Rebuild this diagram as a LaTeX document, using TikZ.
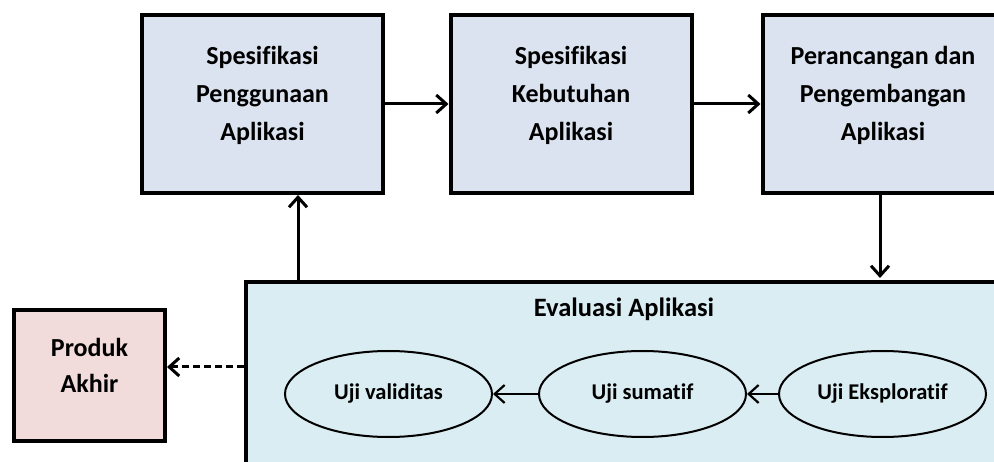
\documentclass[tikz,border=0pt]{standalone}
\usepackage{fontspec}
\setmainfont{Carlito}[Ligatures={NoCommon}]
\usetikzlibrary{arrows.meta,shapes.geometric}
\definecolor{boxfill}{HTML}{DCE3F0}
\definecolor{evalfill}{HTML}{DAEDF3}
\definecolor{prodfill}{HTML}{F2DCDB}
\tikzset{
  stagebox/.style={draw=black, line width=4pt, fill=boxfill, minimum width=241pt, minimum height=178pt, inner sep=0pt},
  prodbox/.style={draw=black, line width=4pt, fill=prodfill, minimum width=151pt, minimum height=131pt, inner sep=0pt},
  evalbox/.style={draw=black, line width=4pt, fill=evalfill, minimum width=756pt, minimum height=220pt, inner sep=0pt},
  testell/.style={draw=black, ellipse, line width=2pt, fill=evalfill, minimum width=207pt, minimum height=86pt, inner sep=0pt, font=\bfseries\fontsize{22.5}{26}\selectfont},
  boxtext/.style={align=center, font=\bfseries\fontsize{26}{38}\selectfont, inner sep=0pt},
  prodtext/.style={align=center, font=\bfseries\fontsize{26}{36}\selectfont, inner sep=0pt},
  flowarrow/.style={line width=3pt, -{Straight Barb[length=10pt,width=18pt,line width=3pt]}},
  smallarrow/.style={line width=2.2pt, -{Straight Barb[length=10pt,width=18pt,line width=2.2pt]}},
  dasharrow/.style={line width=3pt, dash pattern=on 7pt off 4pt, -{Straight Barb[length=10pt,width=18pt,line width=3pt]}},
}
\begin{document}
\begin{tikzpicture}[x=1pt,y=-1pt]
\clip (0,0) rectangle (994,462);
\fill[white] (0,0) rectangle (994,462);
% top boxes
\node[stagebox] (b1) at (262.5,104) {};
\node[stagebox] (b2) at (571,104) {};
\node[stagebox] (b3) at (883,104) {};
\node[boxtext] (t1) at ([yshift=9pt]b1.center) {Spesifikasi\\Penggunaan\\Aplikasi};
\node[boxtext] (t2) at ([yshift=9pt]b2.center) {Spesifikasi\\Kebutuhan\\Aplikasi};
\node[boxtext] (t3) at ([yshift=9pt]b3.center) {Perancangan dan\\Pengembangan\\Aplikasi};
% evaluation box
\node[evalbox] (eval) at (624,392) {};
\node[font=\bfseries\fontsize{26.5}{30}\selectfont, inner sep=0pt] (evt) at (624,309) {Evaluasi Aplikasi};
% product box
\node[prodbox] (prod) at (89.5,375.5) {};
\node[prodtext] (pt) at ([yshift=10pt]prod.center) {Produk\\Akhir};
% ellipses
\node[testell] (e1) at (388.5,394) {Uji validitas};
\node[testell] (e2) at (642.5,394) {Uji sumatif};
\node[testell] (e3) at (882.5,394) {Uji Eksploratif};
% connectors
\draw[flowarrow] (b1.east) -- (b2.west);
\draw[flowarrow] (b2.east) -- (b3.west);
\coordinate (downx) at (880,0);
\draw[flowarrow] (b3.south -| downx) -- ([yshift=2pt]eval.north -| downx);
\coordinate (upx) at (298,0);
\draw[flowarrow] (eval.north -| upx) -- (b1.south -| upx);
\coordinate (dashy) at (0,367);
\draw[dasharrow] (eval.west |- dashy) -- (prod.east |- dashy);
\draw[smallarrow] (e3.west) -- (e2.east);
\draw[smallarrow] (e2.west) -- (e1.east);
\end{tikzpicture}
\end{document}
